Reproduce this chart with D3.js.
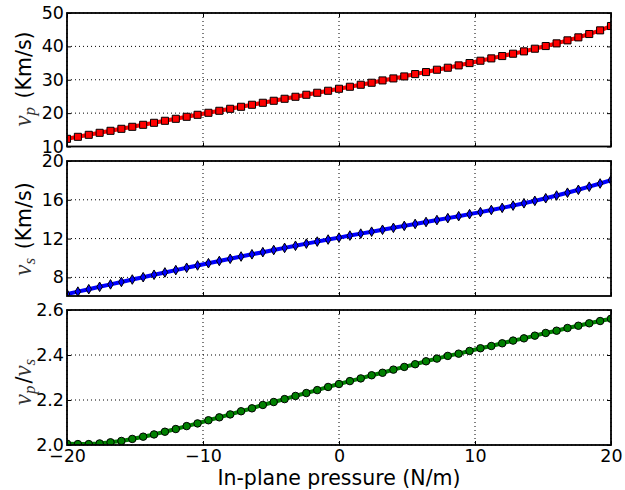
<!DOCTYPE html>
<html>
<head>
<meta charset="utf-8">
<script src="https://cdn.jsdelivr.net/npm/d3@7"></script>
<style>
  body { margin: 0; background: #fff; }
  svg { display: block; }
  text { font-family: "DejaVu Sans", sans-serif; }
</style>
</head>
<body>
<svg width="625" height="490"></svg>
<script>
// in-plane pressure (N/m)
var pressure = [-20, -19.2, -18.4, -17.6, -16.8, -16, -15.2, -14.4, -13.6, -12.8,
    -12, -11.2, -10.4, -9.6, -8.8, -8, -7.2, -6.4, -5.6, -4.8,
    -4, -3.2, -2.4, -1.6, -0.8, 0, 0.8, 1.6, 2.4, 3.2,
    4, 4.8, 5.6, 6.4, 7.2, 8, 8.8, 9.6, 10.4, 11.2,
    12, 12.8, 13.6, 14.4, 15.2, 16, 16.8, 17.6, 18.4, 19.2, 20];

// v_p (Km/s)
var vp = [12.3, 12.9, 13.5, 14.1, 14.7, 15.3, 15.9, 16.5, 17.1, 17.7,
    18.3, 18.9, 19.5, 20.1, 20.7, 21.3, 21.9, 22.5, 23.1, 23.7,
    24.3, 24.9, 25.5, 26.1, 26.7, 27.3, 27.9, 28.5, 29.1, 29.8,
    30.4, 31.0, 31.7, 32.3, 33.0, 33.6, 34.3, 35.0, 35.7, 36.4,
    37.1, 37.8, 38.5, 39.3, 40.1, 40.9, 41.8, 42.7, 43.7, 44.8, 46.1];

// v_s (Km/s)
var vs = [6.28, 6.53, 6.78, 7.03, 7.28, 7.53, 7.78, 8.02, 8.27, 8.51,
    8.75, 8.99, 9.23, 9.46, 9.69, 9.92, 10.15, 10.38, 10.60, 10.82,
    11.04, 11.26, 11.48, 11.69, 11.90, 12.10, 12.31, 12.51, 12.71, 12.91,
    13.11, 13.31, 13.51, 13.71, 13.91, 14.11, 14.31, 14.52, 14.73, 14.95,
    15.17, 15.40, 15.64, 15.89, 16.16, 16.44, 16.73, 17.03, 17.35, 17.68, 18.03];

// v_p / v_s
var ratio = [2.006, 2.004, 2.004, 2.007, 2.012, 2.018, 2.027, 2.037, 2.047, 2.059,
    2.071, 2.084, 2.096, 2.110, 2.123, 2.136, 2.150, 2.163, 2.178, 2.191,
    2.204, 2.218, 2.231, 2.244, 2.258, 2.271, 2.284, 2.296, 2.310, 2.321,
    2.335, 2.347, 2.359, 2.372, 2.384, 2.396, 2.406, 2.418, 2.430, 2.440,
    2.452, 2.464, 2.474, 2.486, 2.498, 2.508, 2.520, 2.530, 2.541, 2.551, 2.561];

var xTicks = [-20, -10, 0, 10, 20];
var vpTicks = [10, 20, 30, 40, 50];
var vsTicks = [8, 12, 16, 20];
var ratioTicks = [2.0, 2.2, 2.4, 2.6];

var svg = d3.select('svg');
svg.append('rect').attr('width', 625).attr('height', 490).attr('fill', '#fff');

var left = 67, right = 611;
var x = d3.scaleLinear().domain([-20, 20]).range([left, right]);

var diamond = 'M0,-4.8L2.8,0L0,4.8L-2.8,0Z';

var panels = [
    {top: 13, bottom: 146.5, domain: [10, 50], ticks: vpTicks, fmt: d3.format('d'),
     values: vp, color: '#ff0000', marker: d3.symbol().type(d3.symbolSquare).size(50)(),
     label: [['v', 'p'], ' (Km/s)'], labelY: 79},
    {top: 161, bottom: 296, domain: [6.08, 20], ticks: vsTicks, fmt: d3.format('d'),
     values: vs, color: '#0000ff', marker: diamond,
     label: [['v', 's'], ' (Km/s)'], labelY: 229},
    {top: 310, bottom: 445, domain: [2.0, 2.6], ticks: ratioTicks, fmt: d3.format('.1f'),
     values: ratio, color: '#008000', marker: d3.symbol().type(d3.symbolCircle).size(44)(),
     label: [['v', 'p'], '/', ['v', 's']], labelY: 381}
];

panels.forEach(function(p, k) {
    var y = d3.scaleLinear().domain(p.domain).range([p.bottom, p.top]);
    var g = svg.append('g');

    var clipId = 'clip' + k;
    svg.append('clipPath').attr('id', clipId)
        .append('rect')
        .attr('x', left).attr('y', p.top)
        .attr('width', right - left).attr('height', p.bottom - p.top);

    // dotted grid
    g.selectAll('.gx').data(xTicks).enter().append('line')
        .attr('x1', function(d) { return x(d); })
        .attr('x2', function(d) { return x(d); })
        .attr('y1', p.top).attr('y2', p.bottom)
        .attr('stroke', '#000').attr('stroke-width', 1)
        .attr('stroke-dasharray', '1,3');
    g.selectAll('.gy').data(p.ticks).enter().append('line')
        .attr('x1', left).attr('x2', right)
        .attr('y1', function(d) { return y(d); })
        .attr('y2', function(d) { return y(d); })
        .attr('stroke', '#000').attr('stroke-width', 1)
        .attr('stroke-dasharray', '1,3');

    var data = pressure.map(function(px, i) { return [px, p.values[i]]; });
    var plot = g.append('g').attr('clip-path', 'url(#' + clipId + ')');

    plot.append('path')
        .datum(data)
        .attr('fill', 'none')
        .attr('stroke', p.color)
        .attr('stroke-width', 4)
        .attr('stroke-linejoin', 'round')
        .attr('d', d3.line()
            .x(function(d) { return x(d[0]); })
            .y(function(d) { return y(d[1]); }));

    plot.selectAll('.mk').data(data).enter().append('path')
        .attr('transform', function(d) { return 'translate(' + x(d[0]) + ',' + y(d[1]) + ')'; })
        .attr('d', p.marker)
        .attr('fill', p.color)
        .attr('stroke', '#000')
        .attr('stroke-width', 1);

    // inward ticks on all four sides
    var fontSize = 17.5;
    var yl = g.append('g').attr('transform', 'translate(' + left + ',0)')
        .call(d3.axisLeft(y).tickValues(p.ticks).tickFormat(p.fmt)
            .tickSize(-4).tickSizeOuter(0).tickPadding(3));
    var yr = g.append('g').attr('transform', 'translate(' + right + ',0)')
        .call(d3.axisRight(y).tickValues(p.ticks).tickFormat('')
            .tickSize(-4).tickSizeOuter(0));
    var xt = g.append('g').attr('transform', 'translate(0,' + p.top + ')')
        .call(d3.axisTop(x).tickValues(xTicks).tickFormat('')
            .tickSize(-4).tickSizeOuter(0));
    var xb = g.append('g').attr('transform', 'translate(0,' + p.bottom + ')')
        .call(d3.axisBottom(x).tickValues(xTicks)
            .tickFormat(k === 2 ? d3.format('d') : '')
            .tickSize(-4).tickSizeOuter(0).tickPadding(5));

    [yl, yr, xt, xb].forEach(function(a) {
        a.select('.domain').remove();
        a.selectAll('line').attr('stroke', '#000').attr('stroke-width', 1);
        a.selectAll('text')
            .attr('fill', '#000')
            .style('font-family', '"DejaVu Sans", sans-serif')
            .style('font-size', fontSize + 'px');
    });

    // frame
    g.append('rect')
        .attr('x', left).attr('y', p.top)
        .attr('width', right - left).attr('height', p.bottom - p.top)
        .attr('fill', 'none').attr('stroke', '#000').attr('stroke-width', 1.8);

    // y label
    var lab = svg.append('text')
        .attr('transform', 'translate(31,' + p.labelY + ') rotate(-90)')
        .attr('text-anchor', 'middle')
        .attr('fill', '#000')
        .style('font-size', '20.5px');
    p.label.forEach(function(part) {
        if (typeof part === 'string') {
            lab.append('tspan').text(part)
                .style('font-family', '"DejaVu Sans", sans-serif')
                .attr('font-style', 'normal');
        } else {
            lab.append('tspan').text(part[0])
                .style('font-family', '"Liberation Serif", serif')
                .attr('font-style', 'italic')
                .style('font-size', '25px')
                .attr('fill', '#333');
            lab.append('tspan').text(part[1])
                .style('font-family', '"Liberation Serif", serif')
                .attr('font-style', 'italic')
                .style('font-size', '17px')
                .attr('fill', '#333')
                .attr('dy', 4);
            lab.append('tspan').text('\u200a').attr('dy', -4);
        }
    });
});

svg.append('text')
    .attr('x', x(0)).attr('y', 485)
    .attr('text-anchor', 'middle')
    .attr('fill', '#000')
    .style('font-size', '20.5px')
    .text('In-plane pressure (N/m)');
</script>
</body>
</html>
